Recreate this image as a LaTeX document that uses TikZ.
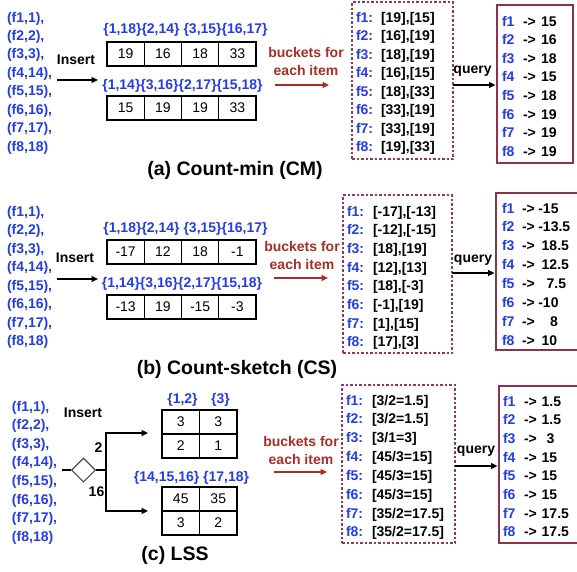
\documentclass[tikz,border=0pt]{standalone}
\usepackage{fontspec}
\setmainfont{Liberation Sans}
\usetikzlibrary{arrows.meta,shapes.geometric}
\definecolor{fblue}{RGB}{35,60,235}
\definecolor{bred}{RGB}{170,45,35}
\definecolor{dboxc}{RGB}{150,55,95}
\definecolor{sboxc}{RGB}{140,50,80}

\newcommand\leftlist[4]{% x, y0, dy, prefix
  \foreach \lbl [count=\i from 0] in {{(f1,1),},{(f2,2),},{(f3,3),},{(f4,14),},{(f5,15),},{(f6,16),},{(f7,17),},{(f8,18)}}{
    \node[blu, anchor=base west] (#4\i) at (#1,{#2+#3*\i+4}) {\lbl};
  }
}
\newcommand\bucketlist[6]{% xlabel, xval, y0, dy, prefix, list
  \foreach \v [count=\i] in {#6}{
    \node[blu, anchor=base west] (#5l\i) at (#1,{#3+#4*(\i-1)+5}) {f\i:};
    \node[blk, anchor=base west] (#5v\i) at (#2,{#3+#4*(\i-1)+5}) {\v};
  }
}
\newcommand\querylist[6]{% xf, xarrow, y0, dy, prefix, list value/x
  \foreach \v/\vx [count=\i] in {#6}{
    \node[blu, anchor=base west] (#5f\i) at (#1,{#3+#4*(\i-1)+5}) {f\i};
    \node[blk, anchor=base west] (#5a\i) at (#2,{#3+#4*(\i-1)+5}) {->};
    \node[blk, anchor=base west] (#5n\i) at (\vx,{#3+#4*(\i-1)+5}) {\v};
  }
}

\begin{document}
\begin{tikzpicture}[x=1pt,y=-1pt,
  bt/.style={inner sep=0pt, outer sep=0pt, font=\fontsize{14}{16}\selectfont\bfseries},
  blu/.style={bt, text=fblue},
  blk/.style={bt, text=black},
  redt/.style={inner sep=0pt, text=bred, align=center, font=\fontsize{14}{18}\selectfont\bfseries},
  cell/.style={draw=black, line width=1.1pt, minimum width=37.25pt, minimum height=24pt, inner sep=0pt, outer sep=0pt, font=\fontsize{14}{16}\selectfont},
  lcell/.style={cell, minimum width=37.5pt},
  dbx/.style={draw=dboxc, line width=1.1pt, dash pattern=on 2.5pt off 2pt, inner sep=0pt, outer sep=0pt},
  sbx/.style={draw=sboxc, line width=1.5pt, inner sep=0pt, outer sep=0pt},
  arr/.style={line width=1.2pt, -{Triangle[length=6.5pt,width=6pt]}},
  rarr/.style={line width=1.2pt, draw=bred, -{Triangle[length=6.5pt,width=6pt,fill=bred]}},
  capt/.style={inner sep=0pt, font=\fontsize{19.5}{22}\selectfont\bfseries},
]
\useasboundingbox (0,0) rectangle (577,571);
\clip (0,0) rectangle (577,571);

% ================= (a) Count-min =================
\leftlist{7}{18}{18.45}{la}
\node[blk] (insA) at (76,60) {Insert};
\coordinate (iA1) at (57,80);
\coordinate (iA2) at (98,80);
\draw[arr] (iA1) -- (iA2);
\node[blu] (hA1) at (185.5,30) {\{1,18\}\{2,14\} \{3,15\}\{16,17\}};
\foreach \v [count=\i from 0] in {19,16,18,33}
  \node[cell] (cA1\i) at ({107+37.25*(\i+0.5)},54) {\v};
\node[blu] (hA2) at (182.5,86) {\{1,14\}\{3,16\}\{2,17\}\{15,18\}};
\foreach \v [count=\i from 0] in {15,19,19,33}
  \node[cell] (cA2\i) at ({107+37.25*(\i+0.5)},108) {\v};
\node[redt] (bkA) at (306,61) {buckets for\\each item};
\coordinate (rA1) at (275,85);
\coordinate (rA2) at (329,85);
\draw[rarr] (rA1) -- (rA2);
\node[dbx, minimum width=101pt, minimum height=157pt] (dA) at (402.5,80.5) {};
\bucketlist{356}{381}{17}{18.55}{ba}{{[19],[15]},{[16],[19]},{[18],[19]},{[16],[15]},{[18],[33]},{[33],[19]},{[33],[19]},{[19],[33]}}
\node[blk] (qA) at (472.5,71) {query};
\node[sbx, minimum width=76pt, minimum height=158pt] (sA) at (535,84) {};
\coordinate (qyA) at (0,85);
\draw[arr, shorten >=1.5pt] (dA.east |- qyA) -- (sA.west |- qyA);
\querylist{502}{523}{21}{18.6}{qa}{15/541,16/541,18/541,15/541,18/541,19/541,19/541,19/541}
\node[capt] (cA) at (235,170) {(a) Count-min (CM)};

% ================= (b) Count-sketch =================
\leftlist{7}{212}{18.5}{lb}
\node[blk] (insB) at (75,258) {Insert};
\coordinate (iB1) at (57,279);
\coordinate (iB2) at (98,279);
\draw[arr] (iB1) -- (iB2);
\node[blu] (hB1) at (185.5,229) {\{1,18\}\{2,14\} \{3,15\}\{16,17\}};
\foreach \v [count=\i from 0] in {-17,12,18,-1}
  \node[cell] (cB1\i) at ({107+37.25*(\i+0.5)},252) {\v};
\node[blu] (hB2) at (182,284) {\{1,14\}\{3,16\}\{2,17\}\{15,18\}};
\foreach \v [count=\i from 0] in {-13,19,-15,-3}
  \node[cell] (cB2\i) at ({107+37.25*(\i+0.5)},307) {\v};
\node[redt] (bkB) at (302,255) {buckets for\\each item};
\coordinate (rB1) at (274,278);
\coordinate (rB2) at (328,278);
\draw[rarr] (rB1) -- (rB2);
\node[dbx, minimum width=109pt, minimum height=158pt] (dB) at (397.5,274) {};
\bucketlist{347}{373}{211}{18.7}{bb}{{[-17],[-13]},{[-12],[-15]},{[18],[19]},{[12],[13]},{[18],[-3]},{[-1],[19]},{[1],[15]},{[17],[3]}}
\node[blk] (qB) at (473,260) {query};
\node[sbx, minimum width=94pt, minimum height=157pt] (sB) at (543,271.5) {};
\coordinate (qyB) at (0,273);
\draw[arr, shorten >=1.5pt] (dB.east |- qyB) -- (sB.west |- qyB);
\querylist{502}{522}{208}{18.9}{qb}{-15/538.3,-13.5/538.3,18.5/541.7,12.5/541.7,7.5/546.7,-10/538.3,8/550,10/541.7}
\node[capt] (cB) at (237,369) {(b) Count-sketch (CS)};

% ================= (c) LSS =================
\leftlist{12}{407}{18.6}{lc}
\node[blk] (insC) at (83,413) {Insert};
\node[diamond, draw=black!70, line width=1.1pt, minimum width=24pt, minimum height=24pt, inner sep=0pt] (dm) at (83.5,470) {};
\coordinate (cin) at (62,470);
\coordinate (cj) at (106,470);
\coordinate (ct2) at (148,433);
\coordinate (cb2) at (148,511);
\draw[line width=1.1pt] (cin) -- (dm.west);
\draw[line width=1.1pt] (dm.east) -- (cj);
\draw[arr] (cj) |- (ct2);
\draw[arr] (cj) |- (cb2);
\node[blk] (n2) at (98.5,448) {2};
\node[blk] (n16) at (96.5,492) {16};
\node[blu] (hC1a) at (182.5,400) {\{1,2\}};
\node[blu] (hC1b) at (220.5,400) {\{3\}};
\node[lcell] (t11) at (180.75,422) {3};
\node[lcell] (t12) at (218.25,422) {3};
\node[lcell] (t21) at (180.75,446) {2};
\node[lcell] (t22) at (218.25,446) {1};
\node[blu] (hC2) at (191.5,477.5) {\{14,15,16\} \{17,18\}};
\node[lcell] (u11) at (180.75,499) {45};
\node[lcell] (u12) at (218.25,499) {35};
\node[lcell] (u21) at (180.75,523) {3};
\node[lcell] (u22) at (218.25,523) {2};
\node[redt] (bkC) at (301,450.5) {buckets for\\each item};
\coordinate (rC1) at (274,472);
\coordinate (rC2) at (327,472);
\draw[rarr] (rC1) -- (rC2);
\node[dbx, minimum width=113pt, minimum height=158pt] (dC) at (398.5,464) {};
\bucketlist{346}{372}{400}{18.85}{bc}{{[3/2=1.5]},{[3/2=1.5]},{[3/1=3]},{[45/3=15]},{[45/3=15]},{[45/3=15]},{[35/2=17.5]},{[35/2=17.5]}}
\node[blk] (qC) at (476,451) {query};
\node[sbx, minimum width=91pt, minimum height=157pt] (sC) at (544.5,464.5) {};
\coordinate (qyC) at (0,466);
\draw[arr, shorten >=1.5pt] (dC.east |- qyC) -- (sC.west |- qyC);
\querylist{503}{524}{401}{18.7}{qc}{1.5/541.7,1.5/541.7,3/546.7,15/541.7,15/541.7,15/541.7,17.5/541.7,17.5/541.7}
\node[capt] (cC) at (175,555) {(c) LSS};
\end{tikzpicture}
\end{document}
